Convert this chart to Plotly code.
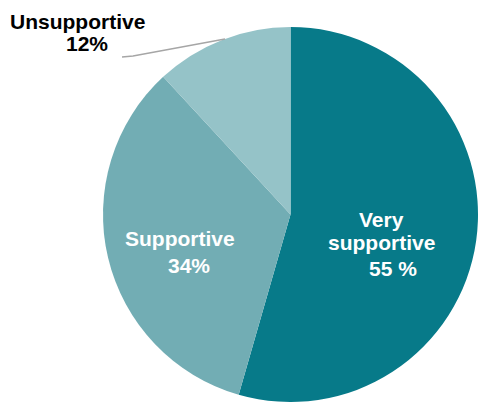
import plotly.graph_objects as go

# Survey responses: share of respondents per attitude
categories = ["Very supportive", "Supportive", "Unsupportive"]
values = [55, 34, 12]
value_suffix = [" %", "%", "%"]
colors = ["#077a89", "#72adb4", "#95c3c8"]

W, H = 478, 402


def px_x(x):
    return x / W


def px_y(y):
    return 1 - y / H


fig = go.Figure(
    go.Pie(
        labels=categories,
        values=values,
        sort=False,
        direction="clockwise",
        rotation=0,
        marker=dict(colors=colors, line=dict(width=0)),
        textinfo="none",
        hoverinfo="label+percent",
        domain=dict(x=[px_x(103), 1.0], y=[0.0, px_y(27)]),
        showlegend=False,
    )
)

font_white = dict(family="Liberation Sans, Arial, sans-serif", size=21, color="white")
font_black = dict(family="Liberation Sans, Arial, sans-serif", size=21, color="black")

# (line text, centre x, baseline y, font)
lines = [
    ("Very", 381, 227, font_white),
    ("supportive", 381, 249, font_white),
    (f"{values[0]}{value_suffix[0]}", 393, 275, font_white),
    ("Supportive", 180, 245, font_white),
    (f"{values[1]}{value_suffix[1]}", 189, 272, font_white),
    ("Unsupportive", 77, 28, font_black),
    (f"{values[2]}{value_suffix[2]}", 87, 50, font_black),
]

annotations = []
for text, cx, base, fnt in lines:
    annotations.append(
        dict(
            text=f"<b>{text}</b>",
            x=px_x(cx),
            y=px_y(base - 7),
            xref="paper",
            yref="paper",
            xanchor="center",
            yanchor="middle",
            showarrow=False,
            font=fnt,
        )
    )

# Leader line for the small outside label
leader = [(122, 57), (133, 56), (225, 39)]
path = "M " + " L ".join(f"{px_x(x)},{px_y(y)}" for x, y in leader)

fig.update_layout(
    width=W,
    height=H,
    margin=dict(l=0, r=0, t=0, b=0),
    paper_bgcolor="white",
    plot_bgcolor="white",
    annotations=annotations,
    shapes=[
        dict(
            type="path",
            path=path,
            xref="paper",
            yref="paper",
            line=dict(color="#a6a6a6", width=1.5),
        )
    ],
)

fig.write_html("out.html")
